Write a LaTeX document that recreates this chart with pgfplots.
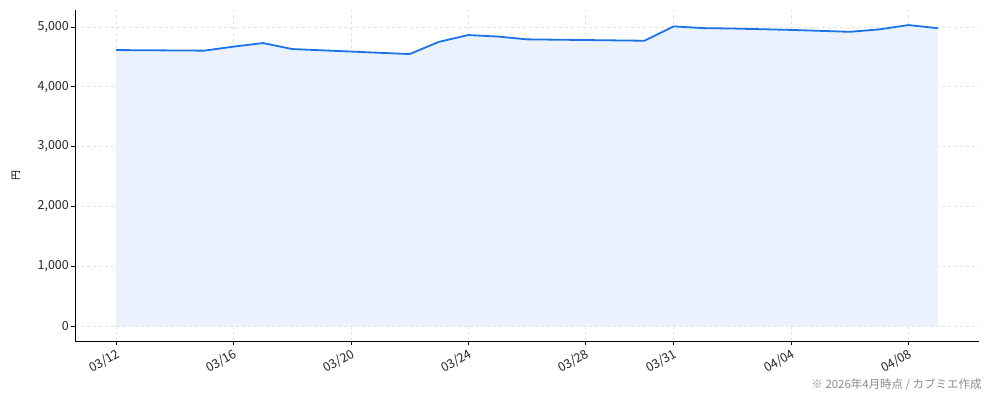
\documentclass[border=0pt]{standalone}
\usepackage{pgfplots}
\pgfplotsset{compat=1.18}
\usepackage{fontspec}
\setmainfont{Noto Sans CJK JP}

\definecolor{lineblue}{HTML}{1A73E8}
\definecolor{fillblue}{HTML}{EBF2FD}
\definecolor{gridgray}{HTML}{E2E2E6}
\definecolor{notegray}{HTML}{8A8A8A}

% day index from 03/12
\pgfplotstableread{
d price
0 4615
3 4605
4 4672
5 4732
6 4632
8 4590
10 4548
11 4752
12 4866
13 4841
14 4794
18 4771
19 5011
20 4982
21 4975
23 4952
25 4920
26 4961
27 5033
28 4980
}\pricedata

\begin{document}
\begin{tikzpicture}[x=1bp,y=1bp]
\begin{axis}[
    name=ax,
    scale only axis,
    width=904bp, height=331bp,
    xmin=-1.4, xmax=29.4,
    ymin=-251, ymax=5285,
    axis x line*=bottom, axis y line*=left,
    axis line style={black, line width=0.9bp},
    xtick={0,4,8,12,16,19,23,27},
    xticklabels={03/12,03/16,03/20,03/24,03/28,03/31,04/04,04/08},
    ytick={0,1000,2000,3000,4000,5000},
    tick align=outside,
    major tick length=4bp,
    tick style={black, line width=0.8bp},
    xmajorgrids, ymajorgrids,
    grid style={gridgray, dashed, line width=0.7bp},
    /pgf/number format/assume math mode=true,
    /pgf/number format/1000 sep={,},
    ticklabel style={font=\fontsize{12.5}{14}\selectfont, text=black!85},
    y tick label style={inner sep=2bp},
    x tick label style={rotate=30, anchor=north east, inner sep=2bp},
    ylabel={円},
    ylabel style={font=\fontsize{12}{14}\selectfont},
    every axis y label/.style={at={(rel axis cs:0,0.5)}, xshift=-59bp, rotate=90, anchor=center},
    clip=false,
]
\addplot[draw=none, fill=fillblue] table[x=d, y=price] {\pricedata} \closedcycle;
\addplot[lineblue, line width=1.8bp, line join=round] table[x=d, y=price] {\pricedata};
\end{axis}
\node[anchor=base east, font=\fontsize{11.5}{13}\selectfont, text=notegray]
    at ([xshift=6bp, yshift=-47bp]ax.south east) {※ 2026年4月時点 / カブミエ作成};
\path[use as bounding box] ([xshift=-75bp, yshift=-60bp]ax.south west) rectangle ([xshift=15bp, yshift=10bp]ax.north east);
\end{tikzpicture}
\end{document}
